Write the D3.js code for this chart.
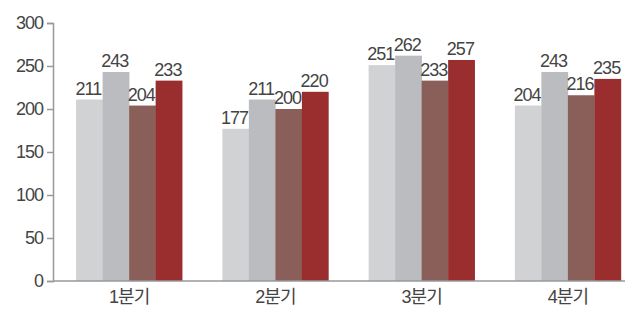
<!DOCTYPE html>
<html>
<head>
<meta charset="utf-8">
<script src="https://cdn.jsdelivr.net/npm/d3@7"></script>
<style>
  body { margin: 0; background: #fff; }
  text { font-family: "Liberation Sans", "Noto Sans CJK KR", sans-serif; fill: #444; }
</style>
</head>
<body>
<svg id="chart" width="640" height="309"></svg>
<script>
'use strict';

// data
var quarters = ["1분기", "2분기", "3분기", "4분기"],
    seriesA = [211, 177, 251, 204],
    seriesB = [243, 211, 262, 243],
    seriesC = [204, 200, 233, 216],
    seriesD = [233, 220, 257, 235],
    yTicks  = [0, 50, 100, 150, 200, 250, 300];

var series = [
  {id: "a", values: seriesA, color: "#d1d2d4"},
  {id: "b", values: seriesB, color: "#bbbcc0"},
  {id: "c", values: seriesC, color: "#8b5f59"},
  {id: "d", values: seriesD, color: "#9a2d2d"}
];

var svg = d3.select("#chart"),
    axisLeftX = 53,
    axisRightX = 625;

var x = d3.scaleBand()
    .domain(quarters)
    .range([56, 641])
    .paddingInner(0.275)
    .paddingOuter(0.1375);

var xs = d3.scaleBand()
    .domain(series.map(function(d) { return d.id; }))
    .range([0, x.bandwidth()]);

var y = d3.scaleLinear()
    .domain([0, 300])
    .range([281, 23]);

// bars
var groups = svg.append("g").selectAll("g")
    .data(series)
  .enter().append("g")
    .attr("fill", function(d) { return d.color; });

groups.selectAll("rect")
    .data(function(d) {
      return d.values.map(function(v, i) { return {id: d.id, q: quarters[i], v: v}; });
    })
  .enter().append("rect")
    .attr("x", function(d) { return x(d.q) + xs(d.id); })
    .attr("y", function(d) { return y(d.v); })
    .attr("width", xs.bandwidth() + 0.3)
    .attr("height", function(d) { return y(0) - y(d.v); });

// value labels
groups.selectAll("text")
    .data(function(d) {
      return d.values.map(function(v, i) { return {id: d.id, q: quarters[i], v: v}; });
    })
  .enter().append("text")
    .attr("x", function(d) { return x(d.q) + xs(d.id) + xs.bandwidth() / 2 - 1; })
    .attr("y", function(d) { return y(d.v) - 5; })
    .attr("text-anchor", "middle")
    .style("font-size", "18px")
    .style("letter-spacing", "-1px")
    .text(function(d) { return d.v; });

// y axis
var gy = svg.append("g")
    .attr("transform", "translate(" + axisLeftX + ",0)")
    .call(d3.axisLeft(y).tickValues(yTicks).tickSize(6).tickPadding(4));
gy.select(".domain").attr("stroke", "#999").attr("stroke-width", 1.5);
gy.selectAll(".tick line").attr("stroke", "#999").attr("stroke-width", 1.5);
gy.selectAll(".tick text")
    .style("font-size", "18px")
    .style("letter-spacing", "-1px")
    .style("font-family", "Liberation Sans, sans-serif")
    .attr("fill", "#444");

// x axis
var gx = svg.append("g")
    .attr("transform", "translate(0," + y(0) + ")")
    .call(d3.axisBottom(x).tickSize(0).tickPadding(9));
gx.select(".domain")
    .attr("d", "M" + axisLeftX + ",0H" + axisRightX)
    .attr("stroke", "#999")
    .attr("stroke-width", 1.5);
gx.selectAll(".tick text")
    .style("font-size", "18px")
    .style("letter-spacing", "-1px")
    .style("font-family", "Liberation Sans, Noto Sans CJK KR, sans-serif")
    .attr("fill", "#444");
</script>
</body>
</html>
